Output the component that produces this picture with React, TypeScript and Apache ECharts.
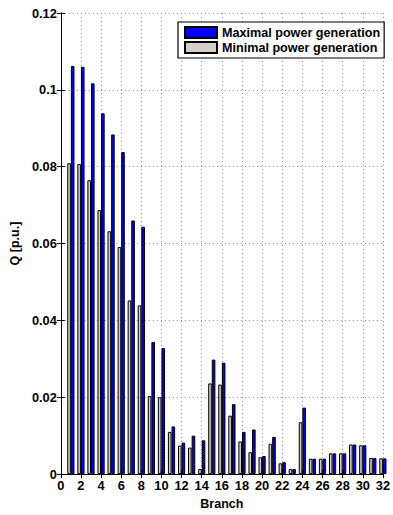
import React, { useEffect, useRef } from "react";
import * as echarts from "echarts";

const branches = [1, 2, 3, 4, 5, 6, 7, 8, 9, 10, 11, 12, 13, 14, 15, 16, 17, 18, 19, 20, 21, 22, 23, 24, 25, 26, 27, 28, 29, 30, 31, 32];
const maximalQ = [0.1062, 0.1060, 0.1017, 0.0939, 0.0884, 0.0838, 0.0660, 0.0644, 0.0344, 0.0328, 0.0124, 0.0082, 0.0100, 0.0088, 0.0298, 0.0290, 0.0182, 0.0110, 0.0116, 0.0047, 0.0097, 0.0031, 0.0013, 0.0173, 0.0040, 0.0040, 0.0054, 0.0054, 0.0077, 0.0075, 0.0042, 0.0041];
const minimalQ = [0.0809, 0.0807, 0.0765, 0.0687, 0.0632, 0.0591, 0.0452, 0.0439, 0.0203, 0.0200, 0.0110, 0.0074, 0.0069, 0.0013, 0.0236, 0.0233, 0.0152, 0.0085, 0.0057, 0.0044, 0.0079, 0.0028, 0.0013, 0.0135, 0.0040, 0.0040, 0.0054, 0.0054, 0.0077, 0.0075, 0.0042, 0.0041];
const seriesNames = ["Maximal power generation", "Minimal power generation"];

const FONT = "'Liberation Sans', Arial, Helvetica, sans-serif";

export default function App() {
  const ref = useRef<HTMLDivElement>(null);
  useEffect(() => {
    if (!ref.current) return;
    const chart = echarts.init(ref.current, undefined, { renderer: "svg" });
    const gridLine = { show: true, lineStyle: { color: "#8a8a8a", width: 1, type: [1, 3] as any } };
    const tick = { show: true, inside: true, length: 4, lineStyle: { color: "#000", width: 1 } };
    const axisLine = { show: true, lineStyle: { color: "#000", width: 1 } };
    const labelStyle = { color: "#000", fontFamily: FONT, fontWeight: "bold" as const, fontSize: 12.8 };
    chart.setOption({
      animation: false,
      backgroundColor: "#fff",
      grid: { left: 58, right: 1, top: 13, bottom: 35, containLabel: false },
      legend: {
        data: seriesNames,
        orient: "vertical",
        left: 178,
        top: 22,
        icon: "rect",
        itemWidth: 32,
        itemHeight: 11,
        itemGap: 2,
        padding: [4, 4, 4, 6],
        backgroundColor: "#fff",
        borderColor: "#000",
        borderWidth: 1.2,
        textStyle: { ...labelStyle, fontSize: 12.6 },
      },
      xAxis: [
        {
          type: "value",
          min: 0,
          max: 32,
          interval: 2,
          position: "bottom",
          name: "Branch",
          nameLocation: "middle",
          nameGap: 19,
          nameTextStyle: { ...labelStyle, fontSize: 12.5 },
          axisLine,
          axisTick: tick,
          axisLabel: { ...labelStyle, margin: 5 },
          splitLine: gridLine,
        },
        {
          type: "value",
          min: 0,
          max: 32,
          interval: 2,
          position: "top",
          axisLine,
          axisTick: tick,
          axisLabel: { show: false },
          splitLine: { show: false },
        },
      ],
      yAxis: [
        {
          type: "value",
          min: 0,
          max: 0.12,
          interval: 0.02,
          position: "left",
          name: "Q [p.u.]",
          nameLocation: "middle",
          nameGap: 31,
          nameTextStyle: { ...labelStyle, fontSize: 12.5 },
          axisLine,
          axisTick: tick,
          axisLabel: { ...labelStyle, margin: 4 },
          splitLine: gridLine,
        },
        {
          type: "value",
          min: 0,
          max: 0.12,
          interval: 0.02,
          position: "right",
          axisLine,
          axisTick: tick,
          axisLabel: { show: false },
          splitLine: { show: false },
        },
      ],
      series: [
        {
          name: seriesNames[1],
          type: "bar",
          xAxisIndex: 0,
          yAxisIndex: 0,
          barWidth: 3.6,
          barGap: "0%",
          data: branches.map((b, i) => [b, minimalQ[i]]),
          itemStyle: { color: "#d4d0c8", borderColor: "#000", borderWidth: 1 },
        },
        {
          name: seriesNames[0],
          type: "bar",
          xAxisIndex: 0,
          yAxisIndex: 0,
          barWidth: 3.6,
          barGap: "0%",
          data: branches.map((b, i) => [b, maximalQ[i]]),
          itemStyle: { color: "#0000ff", borderColor: "#000", borderWidth: 1 },
        },
      ],
    });
    return () => chart.dispose();
  }, []);
  return (
    <div
      ref={ref}
      style={{ position: "absolute", left: 0, top: 0, width: 393, height: 515 }}
    />
  );
}
